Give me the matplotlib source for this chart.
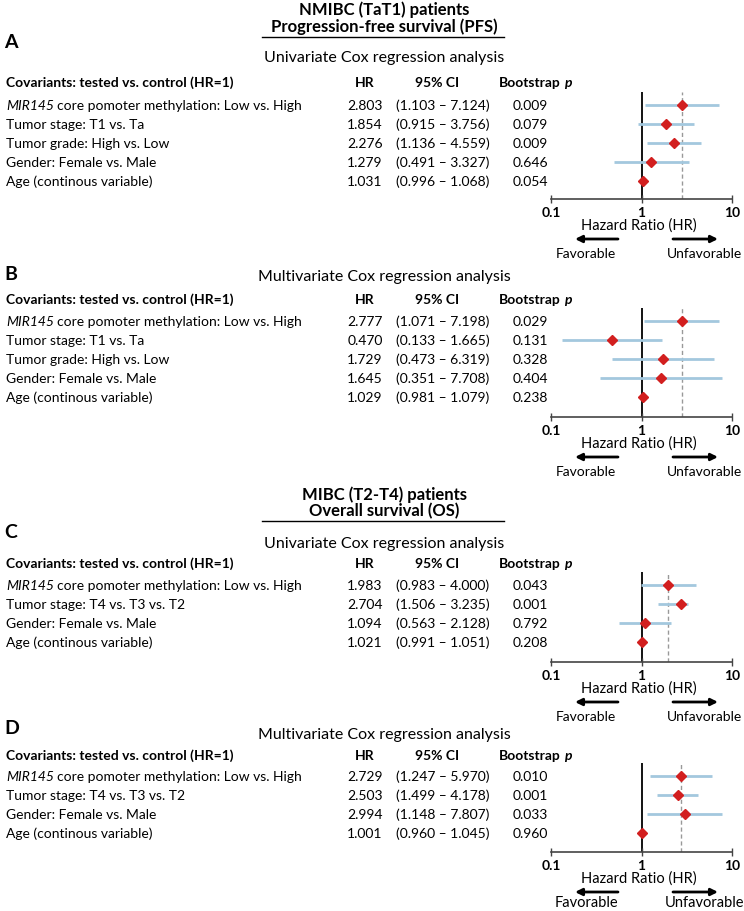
import matplotlib
matplotlib.use('Agg')
import matplotlib.pyplot as plt
from matplotlib.patches import FancyArrowPatch
from matplotlib.lines import Line2D
import numpy as np

plt.rcParams['font.family'] = ['Lato', 'DejaVu Sans']

W, H = 744, 912
fig = plt.figure(figsize=(W / 100, H / 100), dpi=100)

RED = '#d21f1f'
BLUE = '#a3c8de'

# ---- data ----
labels_pfs = ['core pomoter methylation: Low vs. High', 'Tumor stage: T1 vs. Ta',
              'Tumor grade: High vs. Low', 'Gender: Female vs. Male', 'Age (continous variable)']
labels_os = ['core pomoter methylation: Low vs. High', 'Tumor stage: T4 vs. T3 vs. T2',
             'Gender: Female vs. Male', 'Age (continous variable)']

hr_a = [2.803, 1.854, 2.276, 1.279, 1.031]
lo_a = [1.103, 0.915, 1.136, 0.491, 0.996]
hi_a = [7.124, 3.756, 4.559, 3.327, 1.068]
p_a = [0.009, 0.079, 0.009, 0.646, 0.054]

hr_b = [2.777, 0.470, 1.729, 1.645, 1.029]
lo_b = [1.071, 0.133, 0.473, 0.351, 0.981]
hi_b = [7.198, 1.665, 6.319, 7.708, 1.079]
p_b = [0.029, 0.131, 0.328, 0.404, 0.238]

hr_c = [1.983, 2.704, 1.094, 1.021]
lo_c = [0.983, 1.506, 0.563, 0.991]
hi_c = [4.000, 3.235, 2.128, 1.051]
p_c = [0.043, 0.001, 0.792, 0.208]

hr_d = [2.729, 2.503, 2.994, 1.001]
lo_d = [1.247, 1.499, 1.148, 0.960]
hi_d = [5.970, 4.178, 7.807, 1.045]
p_d = [0.010, 0.001, 0.033, 0.960]

FS = 10


def fx(x):
    return x / W


def fy(y):
    return 1 - y / H


def txt(x, y, s, **kw):
    kw.setdefault('fontsize', FS)
    kw.setdefault('va', 'center')
    return fig.text(fx(x), fy(y), s, **kw)


def group_title(y1, y2, yline, l1, l2):
    txt(384, y1, l1, ha='center', fontsize=12, fontweight='bold')
    txt(384, y2, l2, ha='center', fontsize=12, fontweight='bold')
    fig.add_artist(Line2D([fx(262), fx(504)], [fy(yline), fy(yline)], color='black', lw=1))


def panel(letter, y_letter, subtitle, y_sub, y_head, y_row0, y_axis, labels, hr, lo, hi, pv,
          fav_fs=10, fav_dy=54):
    step = 19
    txt(4, y_letter, letter, fontsize=14, fontweight='bold')
    txt(384, y_sub, subtitle, ha='center', fontsize=11.5)
    txt(6, y_head, 'Covariants: tested vs. control (HR=1)', fontweight='bold')
    txt(365, y_head, 'HR', ha='center', fontweight='bold')
    txt(437, y_head, '95% CI', ha='center', fontweight='bold')
    txt(561, y_head, 'Bootstrap', ha='right', fontweight='bold')
    txt(564, y_head, 'p', ha='left', fontweight='bold', fontstyle='italic')

    for i, lab in enumerate(labels):
        y = y_row0 + i * step
        if i == 0:
            t = txt(6, y, 'MIR145', fontstyle='italic')
            fig.canvas.draw()
            bb = t.get_window_extent()
            txt(bb.x1 + 3, y, lab)
        else:
            txt(6, y, lab)
        txt(365, y, '%.3f' % hr[i], ha='center')
        txt(443, y, '(%.3f \u2013 %.3f)' % (lo[i], hi[i]), ha='center')
        txt(530, y, '%.3f' % pv[i], ha='center')

    # forest plot axes
    top = y_row0 - 13
    ax = fig.add_axes([fx(551), fy(y_axis), fx(732) - fx(551), (y_axis - top) / H])
    n = len(hr)
    ax.set_xscale('log')
    ax.set_xlim(0.1, 10)
    ax.set_ylim((y_axis - y_row0) / step, (top - y_row0) / step)
    ax.patch.set_alpha(0)
    for s in ['top', 'left', 'right']:
        ax.spines[s].set_visible(False)
    ax.spines['bottom'].set_color('#444444')
    ax.spines['bottom'].set_linewidth(1.2)
    ax.set_yticks([])
    ax.set_xticks([0.1, 1, 10])
    ax.set_xticklabels(['0.1', '1', '10'], fontweight='bold', fontsize=10)
    ax.xaxis.set_minor_locator(plt.NullLocator())
    ax.tick_params(axis='x', direction='inout', length=6, width=1, color='#444444', pad=2)
    ax.axvline(1, color='black', lw=1.3, zorder=1)
    ax.axvline(hr[0], color='#999999', lw=1, ls=(0, (3, 2)), zorder=1)
    ys = np.arange(n)
    ax.hlines(ys, lo, hi, color=BLUE, lw=2, zorder=2)
    ax.plot(hr, ys, 'D', color=RED, ms=5.5, mec=RED, zorder=3, clip_on=False)

    txt(639, y_axis + 26, 'Hazard Ratio (HR)', ha='center', fontsize=10.5)
    ya = y_axis + 40
    for x0, x1 in [(618, 575), (673, 718)]:
        fig.add_artist(FancyArrowPatch((fx(x0), fy(ya)), (fx(x1), fy(ya)),
                                       transform=fig.transFigure, arrowstyle='-|>',
                                       mutation_scale=10, lw=2, color='black',
                                       shrinkA=0, shrinkB=0))
    txt(586, y_axis + fav_dy, 'Favorable', ha='center', fontsize=fav_fs)
    txt(705, y_axis + fav_dy, 'Unfavorable', ha='center', fontsize=fav_fs)


group_title(10, 27, 38, 'NMIBC (TaT1) patients', 'Progression-free survival (PFS)')
panel('A', 43, 'Univariate Cox regression analysis', 58, 83, 106, 200,
      labels_pfs, hr_a, lo_a, hi_a, p_a)
panel('B', 275, 'Multivariate Cox regression analysis', 277, 300, 322, 418,
      labels_pfs, hr_b, lo_b, hi_b, p_b)
group_title(495, 511, 522, 'MIBC (T2-T4) patients', 'Overall survival (OS)')
panel('C', 533, 'Univariate Cox regression analysis', 544, 564, 586, 663,
      labels_os, hr_c, lo_c, hi_c, p_c)
panel('D', 728, 'Multivariate Cox regression analysis', 735, 756, 777, 853,
      labels_os, hr_d, lo_d, hi_d, p_d, fav_fs=10.5, fav_dy=50)

fig.savefig('out.png', dpi=100)
